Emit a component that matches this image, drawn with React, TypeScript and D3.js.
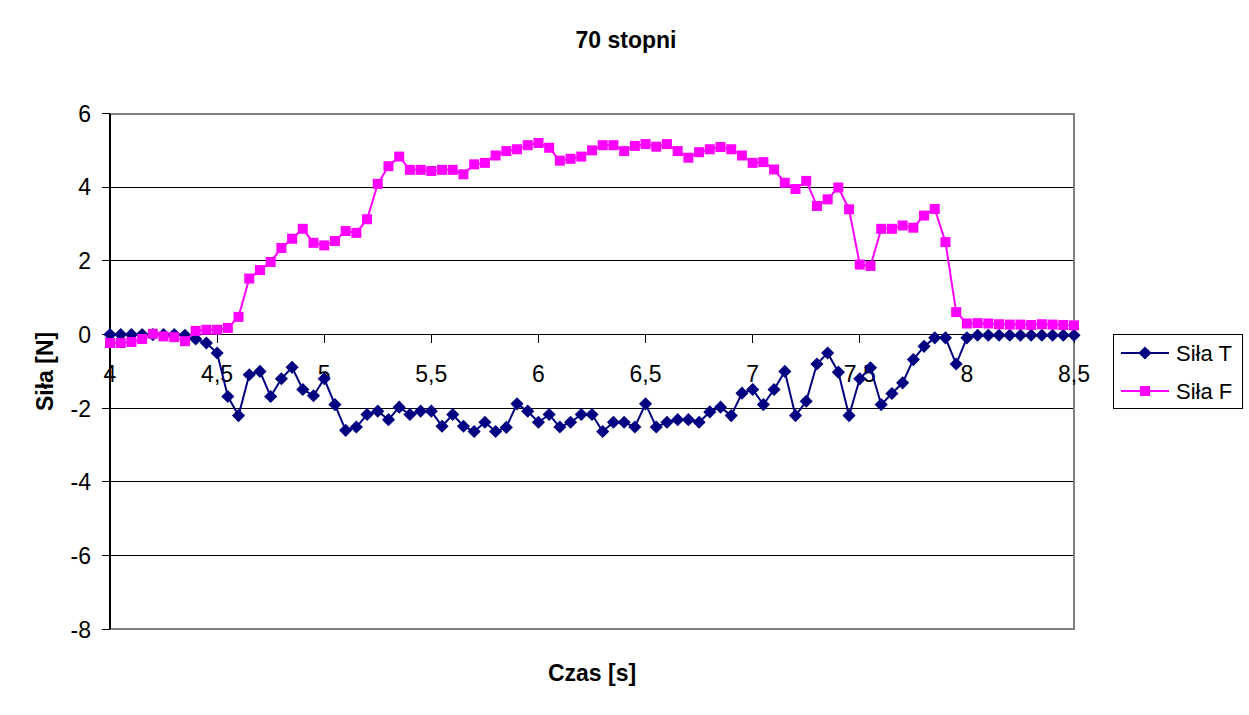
import React, { useRef, useEffect } from 'react';
import * as d3 from 'd3';

const czas = [
  4.0, 4.05, 4.1, 4.15, 4.2, 4.25, 4.3, 4.35, 4.4, 4.45,
  4.5, 4.55, 4.6, 4.65, 4.7, 4.75, 4.8, 4.85, 4.9, 4.95,
  5.0, 5.05, 5.1, 5.15, 5.2, 5.25, 5.3, 5.35, 5.4, 5.45,
  5.5, 5.55, 5.6, 5.65, 5.7, 5.75, 5.8, 5.85, 5.9, 5.95,
  6.0, 6.05, 6.1, 6.15, 6.2, 6.25, 6.3, 6.35, 6.4, 6.45,
  6.5, 6.55, 6.6, 6.65, 6.7, 6.75, 6.8, 6.85, 6.9, 6.95,
  7.0, 7.05, 7.1, 7.15, 7.2, 7.25, 7.3, 7.35, 7.4, 7.45,
  7.5, 7.55, 7.6, 7.65, 7.7, 7.75, 7.8, 7.85, 7.9, 7.95,
  8.0, 8.05, 8.1, 8.15, 8.2, 8.25, 8.3, 8.35, 8.4, 8.45, 8.5,
];

const silaT = [
  0, 0, 0, 0, 0, 0, 0, -0.02, -0.12, -0.23,
  -0.5, -1.68, -2.2, -1.09, -1.0, -1.68, -1.2, -0.89, -1.49, -1.66,
  -1.2, -1.9, -2.6, -2.51, -2.17, -2.08, -2.31, -1.97, -2.17, -2.08,
  -2.08, -2.49, -2.17, -2.49, -2.63, -2.38, -2.63, -2.52, -1.88, -2.08,
  -2.38, -2.17, -2.51, -2.38, -2.17, -2.17, -2.63, -2.38, -2.38, -2.51,
  -1.88, -2.51, -2.38, -2.31, -2.31, -2.38, -2.1, -1.97, -2.2, -1.59,
  -1.49, -1.9, -1.49, -1.0, -2.2, -1.81, -0.8, -0.5, -1.02, -2.2,
  -1.2, -0.9, -1.9, -1.6, -1.31, -0.68, -0.32, -0.09, -0.09, -0.8,
  -0.09, -0.02, -0.02, -0.02, -0.02, -0.02, -0.02, -0.02, -0.02, -0.02, -0.02,
];

const silaF = [
  -0.23, -0.23, -0.2, -0.12, 0.02, -0.05, -0.07, -0.18, 0.1, 0.13,
  0.13, 0.18, 0.48, 1.52, 1.75, 1.97, 2.35, 2.6, 2.87, 2.49,
  2.42, 2.54, 2.81, 2.76, 3.13, 4.09, 4.57, 4.83, 4.47, 4.47,
  4.44, 4.47, 4.47, 4.35, 4.62, 4.66, 4.86, 4.98, 5.03, 5.14,
  5.2, 5.07, 4.72, 4.77, 4.83, 5.0, 5.14, 5.14, 4.98, 5.12,
  5.17, 5.1, 5.17, 4.98, 4.8, 4.95, 5.03, 5.09, 5.03, 4.86,
  4.66, 4.68, 4.48, 4.12, 3.95, 4.17, 3.49, 3.67, 3.99, 3.4,
  1.9, 1.86, 2.87, 2.87, 2.96, 2.9, 3.23, 3.41, 2.51, 0.61,
  0.3, 0.31, 0.3, 0.28, 0.27, 0.27, 0.26, 0.28, 0.27, 0.26, 0.25,
];

const xTicks = [4, 4.5, 5, 5.5, 6, 6.5, 7, 7.5, 8, 8.5];
const yTicks = [6, 4, 2, 0, -2, -4, -6, -8];

const seriesNames = ['Siła T', 'Siła F'];
const seriesColors = ['#000080', '#FF00FF'];

const fmt = (v: number) => String(v).replace('.', ',');

const App: React.FC = () => {
  const svgRef = useRef<SVGSVGElement | null>(null);

  useEffect(() => {
    if (!svgRef.current) return;
    const svg = d3.select(svgRef.current);
    svg.selectAll('*').remove();
    const font = 'Arial, "Liberation Sans", sans-serif';
    const left = 110, right = 1074, top = 113.5, bottom = 629.3;

    const x = d3.scaleLinear().domain([4, 8.5]).range([left, right]);
    const y = d3.scaleLinear().domain([-8, 6]).range([bottom, top]);

    svg.append('rect').attr('width', 1249).attr('height', 715).attr('fill', '#fff');

    // gridlines
    svg.append('g').selectAll('line').data(yTicks.filter(v => v !== 6 && v !== -8 && v !== 0)).join('line')
      .attr('x1', left).attr('x2', right).attr('y1', d => y(d)).attr('y2', d => y(d))
      .attr('stroke', '#000').attr('stroke-width', 1).attr('shape-rendering', 'crispEdges');

    // plot border (top/right/bottom gray)
    svg.append('path')
      .attr('d', `M${left},${y(6)}H${right}V${y(-8)}H${left}`)
      .attr('fill', 'none').attr('stroke', '#808080').attr('stroke-width', 2).attr('shape-rendering', 'crispEdges');

    // y axis
    const yAxis = svg.append('g');
    yAxis.append('line').attr('x1', left).attr('x2', left).attr('y1', y(6)).attr('y2', y(-8))
      .attr('stroke', '#000').attr('stroke-width', 1.5).attr('shape-rendering', 'crispEdges');
    yAxis.selectAll('line.t').data(yTicks).join('line').attr('class', 't')
      .attr('x1', left - 8).attr('x2', left).attr('y1', d => y(d)).attr('y2', d => y(d))
      .attr('stroke', '#000').attr('shape-rendering', 'crispEdges');
    yAxis.selectAll('text').data(yTicks).join('text')
      .attr('x', 91).attr('y', d => y(d)).attr('dy', '0.36em').attr('text-anchor', 'end')
      .attr('font-family', font).attr('font-size', 23).text(d => fmt(d));

    // x axis at y = 0
    const xAxis = svg.append('g');
    xAxis.append('line').attr('x1', left).attr('x2', right).attr('y1', y(0)).attr('y2', y(0))
      .attr('stroke', '#000').attr('stroke-width', 1.5).attr('shape-rendering', 'crispEdges');
    xAxis.selectAll('line.t').data(xTicks).join('line').attr('class', 't')
      .attr('x1', d => x(d)).attr('x2', d => x(d)).attr('y1', y(0)).attr('y2', y(0) + 8)
      .attr('stroke', '#000').attr('shape-rendering', 'crispEdges');
    xAxis.selectAll('text').data(xTicks).join('text')
      .attr('x', d => x(d)).attr('y', 382).attr('text-anchor', 'middle')
      .attr('font-family', font).attr('font-size', 23).text(d => fmt(d));

    const series = [silaT, silaF];
    const line = d3.line<number>().x((_, i) => x(czas[i])).y(d => y(d));

    series.forEach((vals, s) => {
      const g = svg.append('g');
      g.append('path').datum(vals).attr('d', line).attr('fill', 'none')
        .attr('stroke', seriesColors[s]).attr('stroke-width', 2);
      if (s === 0) {
        g.selectAll('path.m').data(vals).join('path').attr('class', 'm')
          .attr('d', d3.symbol(d3.symbolDiamond2, 110)())
          .attr('transform', (d, i) => `translate(${x(czas[i])},${y(d)})`)
          .attr('fill', seriesColors[s]);
      } else {
        g.selectAll('rect').data(vals).join('rect')
          .attr('x', (_, i) => x(czas[i]) - 5).attr('y', d => y(d) - 5)
          .attr('width', 10).attr('height', 10).attr('fill', seriesColors[s]);
      }
    });

    // titles
    svg.append('text').attr('x', 626).attr('y', 48).attr('text-anchor', 'middle')
      .attr('font-family', font).attr('font-weight', 'bold').attr('font-size', 23).text('70 stopni');
    svg.append('text').attr('x', (left + right) / 2).attr('y', 681).attr('text-anchor', 'middle')
      .attr('font-family', font).attr('font-weight', 'bold').attr('font-size', 23).text('Czas [s]');
    svg.append('text').attr('transform', `translate(53,${(top + bottom) / 2}) rotate(-90)`)
      .attr('text-anchor', 'middle')
      .attr('font-family', font).attr('font-weight', 'bold').attr('font-size', 23).text('Siła [N]');

    // legend
    const lg = svg.append('g');
    lg.append('rect').attr('x', 1113.5).attr('y', 334.5).attr('width', 129).attr('height', 74)
      .attr('fill', '#fff').attr('stroke', '#000').attr('stroke-width', 1);
    seriesNames.forEach((name, s) => {
      const cy = 353 + s * 38;
      lg.append('line').attr('x1', 1121).attr('x2', 1169).attr('y1', cy).attr('y2', cy)
        .attr('stroke', seriesColors[s]).attr('stroke-width', 2);
      if (s === 0) {
        lg.append('path').attr('d', d3.symbol(d3.symbolDiamond2, 110)())
          .attr('transform', `translate(1145,${cy})`).attr('fill', seriesColors[s]);
      } else {
        lg.append('rect').attr('x', 1140).attr('y', cy - 5).attr('width', 10).attr('height', 10)
          .attr('fill', seriesColors[s]);
      }
      lg.append('text').attr('x', 1176).attr('y', cy).attr('dy', '0.36em')
        .attr('font-family', font).attr('font-size', 22).text(name);
    });
  }, []);

  return (
    <svg ref={svgRef} width={1249} height={715} viewBox="0 0 1249 715"
      style={{ position: 'fixed', left: 0, top: 0 }} />
  );
};

export default App;
